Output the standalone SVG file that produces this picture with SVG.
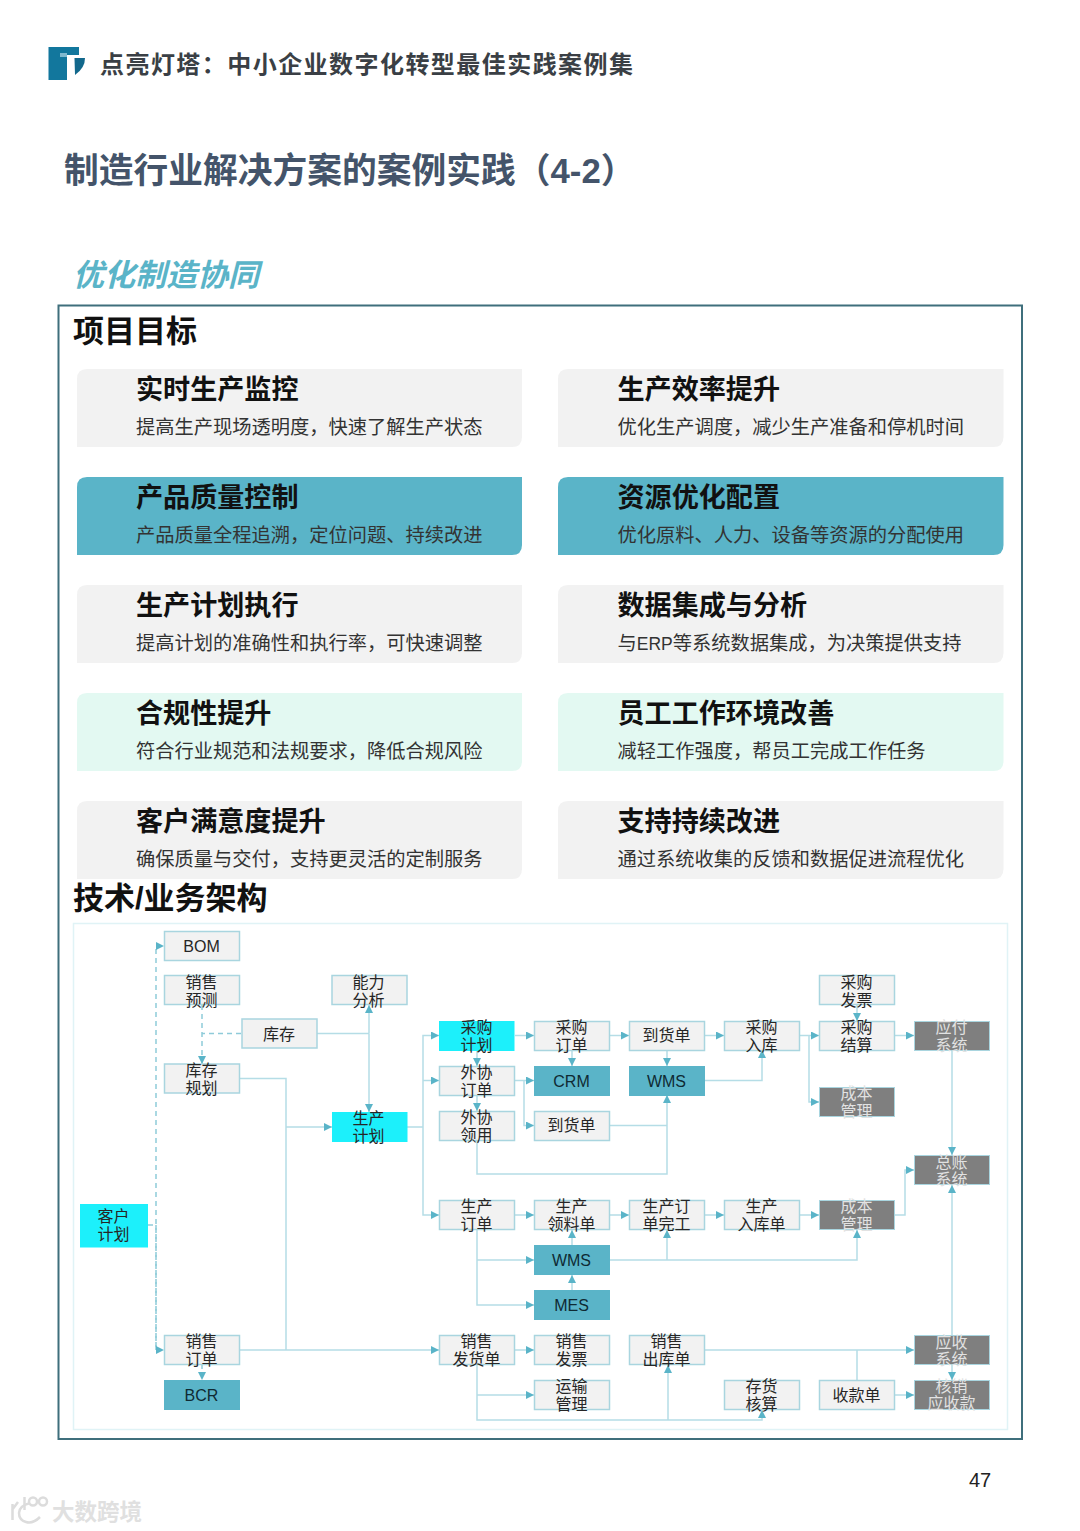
<svg xmlns="http://www.w3.org/2000/svg" width="1080" height="1531" viewBox="0 0 1080 1531">
<style>
text{font-family:"Liberation Sans","Noto Sans CJK SC",sans-serif;fill:#262626}
.n{font-size:16px;text-anchor:middle}
.b{fill:#f2f2f2;stroke:#a9d5df;stroke-width:1.5}
.t{fill:#5ab4c8;stroke:#5ab4c8;stroke-width:1}
.c{fill:#1cf0fb;stroke:#1cf0fb;stroke-width:1}
.g{fill:#7f7f7f;stroke:#a9d5df;stroke-width:1}
.w{fill:#e2e2e2}
.k{fill:#0f2a33}
.ct{font-size:27.1px;font-weight:700;fill:#111}
.cs{font-size:19.25px;fill:#333}
.h{font-size:31px;font-weight:700;fill:#111}
.l{fill:none;stroke:#b5dde6;stroke-width:1.5}
.d{stroke:#8fcbd9;stroke-dasharray:5 4}
.card0{fill:#f2f2f2}.card1{fill:#5ab4c8}.card2{fill:#e3f9f2}
</style>
<defs>
<marker id="a" markerUnits="userSpaceOnUse" markerWidth="9" markerHeight="9" refX="8" refY="4" orient="auto"><path d="M0 0L8 4L0 8Z" fill="#5ab4c8"/></marker>
</defs>
<rect width="1080" height="1531" fill="#fff"/>

<g id="logo">
<path d="M48.500 47H79V55H67V80H48.500Z" fill="#12779d"/>
<path d="M60 53H67V57H60Z" fill="#7fb9cf"/>
<path d="M74.500 58H85Q85 68 75 75Z" fill="#12688c"/>
</g>
<text x="100" y="73" style="font-size:24px;font-weight:700;letter-spacing:1.45px;fill:#3a3f45">点亮灯塔：中小企业数字化转型最佳实践案例集</text>
<text x="64" y="183" style="font-size:34.75px;font-weight:700;fill:#44546a">制造行业解决方案的案例实践（4-2）</text>
<text x="73" y="286" style="font-size:31px;font-weight:700;font-style:italic;fill:#5ab4c8">优化制造协同</text>
<rect x="58.500" y="305.500" width="963.500" height="1133.500" fill="#fff" stroke="#3f6f7c" stroke-width="2"/>
<text class="h" x="73" y="342">项目目标</text>

<g id="card-1"><path class="card0" d="M87 369H522V437Q522 447 512 447H77V379Q77 369 87 369Z"/><text class="ct" x="136" y="399">实时生产监控</text><text class="cs" x="136" y="434">提高生产现场透明度，快速了解生产状态</text></g>
<g id="card-2"><path class="card0" d="M568 369H1003.500V437Q1003.500 447 993.500 447H558V379Q558 369 568 369Z"/><text class="ct" x="617.500" y="399">生产效率提升</text><text class="cs" x="617.500" y="434">优化生产调度，减少生产准备和停机时间</text></g>
<g id="card-3"><path class="card1" d="M87 477H522V545Q522 555 512 555H77V487Q77 477 87 477Z"/><text class="ct" x="136" y="507">产品质量控制</text><text class="cs" x="136" y="542">产品质量全程追溯，定位问题、持续改进</text></g>
<g id="card-4"><path class="card1" d="M568 477H1003.500V545Q1003.500 555 993.500 555H558V487Q558 477 568 477Z"/><text class="ct" x="617.500" y="507">资源优化配置</text><text class="cs" x="617.500" y="542">优化原料、人力、设备等资源的分配使用</text></g>
<g id="card-5"><path class="card0" d="M87 585H522V653Q522 663 512 663H77V595Q77 585 87 585Z"/><text class="ct" x="136" y="615">生产计划执行</text><text class="cs" x="136" y="650">提高计划的准确性和执行率，可快速调整</text></g>
<g id="card-6"><path class="card0" d="M568 585H1003.500V653Q1003.500 663 993.500 663H558V595Q558 585 568 585Z"/><text class="ct" x="617.500" y="615">数据集成与分析</text><text class="cs" x="617.500" y="650">与<tspan style="font-size:17.500px">ERP</tspan>等系统数据集成，为决策提供支持</text></g>
<g id="card-7"><path class="card2" d="M87 693H522V761Q522 771 512 771H77V703Q77 693 87 693Z"/><text class="ct" x="136" y="723">合规性提升</text><text class="cs" x="136" y="758">符合行业规范和法规要求，降低合规风险</text></g>
<g id="card-8"><path class="card2" d="M568 693H1003.500V761Q1003.500 771 993.500 771H558V703Q558 693 568 693Z"/><text class="ct" x="617.500" y="723">员工工作环境改善</text><text class="cs" x="617.500" y="758">减轻工作强度，帮员工完成工作任务</text></g>
<g id="card-9"><path class="card0" d="M87 801H522V869Q522 879 512 879H77V811Q77 801 87 801Z"/><text class="ct" x="136" y="831">客户满意度提升</text><text class="cs" x="136" y="866">确保质量与交付，支持更灵活的定制服务</text></g>
<g id="card-10"><path class="card0" d="M568 801H1003.500V869Q1003.500 879 993.500 879H558V811Q558 801 568 801Z"/><text class="ct" x="617.500" y="831">支持持续改进</text><text class="cs" x="617.500" y="866">通过系统收集的反馈和数据促进流程优化</text></g>
<text class="h" x="73" y="909">技术/业务架构</text>
<rect x="73.500" y="923.500" width="934" height="506" fill="#fff" stroke="#e0f3f6" stroke-width="1.500"/>

<g id="connectors" class="conn">
<path class="l d" d="M148 1225H156"/>
<path class="l d" d="M156 1350V946H164" marker-end="url(#a)"/>
<path class="l d" d="M156 1225V1350H164" marker-end="url(#a)"/>
<path class="l d" d="M202 1005V1064" marker-end="url(#a)"/>
<path class="l d" d="M241 1033.500H202"/>
<path class="l d" d="M202 1364V1380" marker-end="url(#a)"/>
<path class="l" d="M317 1033.500H369"/>
<path class="l" d="M369 1033.500V1005" marker-end="url(#a)"/>
<path class="l" d="M369 1033.500V1112" marker-end="url(#a)"/>
<path class="l" d="M240 1078.500H286V1350"/>
<path class="l" d="M286 1127H332" marker-end="url(#a)"/>
<path class="l" d="M240 1350H439" marker-end="url(#a)"/>
<path class="l" d="M407 1127H423"/>
<path class="l" d="M423 1127V1035.500H439" marker-end="url(#a)"/>
<path class="l" d="M423 1080.500H439" marker-end="url(#a)"/>
<path class="l" d="M423 1127V1215H439" marker-end="url(#a)"/>
<path class="l" d="M477 1050V1066" marker-end="url(#a)"/>
<path class="l" d="M477 1095V1111" marker-end="url(#a)"/>
<path class="l" d="M477 1140V1174H667V1095" marker-end="url(#a)"/>
<path class="l" d="M515 1035.500H534" marker-end="url(#a)"/>
<path class="l" d="M515 1080.500H534" marker-end="url(#a)"/>
<path class="l" d="M524 1080.500V1125.500H534" marker-end="url(#a)"/>
<path class="l" d="M572 1050V1066" marker-end="url(#a)"/>
<path class="l" d="M610 1125.500H667"/>
<path class="l" d="M610 1035.500H629" marker-end="url(#a)"/>
<path class="l" d="M705 1035.500H724" marker-end="url(#a)"/>
<path class="l" d="M667 1050V1066" marker-end="url(#a)"/>
<path class="l" d="M705 1080.500H762V1050" marker-end="url(#a)"/>
<path class="l" d="M800 1035.500H819" marker-end="url(#a)"/>
<path class="l" d="M809 1035.500V1102H819" marker-end="url(#a)"/>
<path class="l" d="M857 1005V1021" marker-end="url(#a)"/>
<path class="l" d="M895 1035.500H914" marker-end="url(#a)"/>
<path class="l" d="M952 1050V1155" marker-end="url(#a)"/>
<path class="l" d="M895 1215H905V1170H914" marker-end="url(#a)"/>
<path class="l" d="M952 1335V1185" marker-end="url(#a)"/>
<path class="l" d="M952 1365V1380" marker-end="url(#a)"/>
<path class="l" d="M515 1215H534" marker-end="url(#a)"/>
<path class="l" d="M610 1215H629" marker-end="url(#a)"/>
<path class="l" d="M705 1215H724" marker-end="url(#a)"/>
<path class="l" d="M800 1215H819" marker-end="url(#a)"/>
<path class="l" d="M477 1230V1305H534" marker-end="url(#a)"/>
<path class="l" d="M477 1260H534" marker-end="url(#a)"/>
<path class="l" d="M572 1245V1230" marker-end="url(#a)"/>
<path class="l" d="M572 1290V1275" marker-end="url(#a)"/>
<path class="l" d="M610 1260H857V1230" marker-end="url(#a)"/>
<path class="l" d="M667 1260V1230" marker-end="url(#a)"/>
<path class="l" d="M515 1350H534" marker-end="url(#a)"/>
<path class="l" d="M477 1365V1420H762V1410" marker-end="url(#a)"/>
<path class="l" d="M477 1395H534" marker-end="url(#a)"/>
<path class="l" d="M668 1420V1365" marker-end="url(#a)"/>
<path class="l" d="M705 1350H914" marker-end="url(#a)"/>
<path class="l" d="M857 1380V1350"/>
<path class="l" d="M895 1395H914" marker-end="url(#a)"/>
</g>

<g id="n-bom"><rect class="b" x="164.500" y="931.500" width="75" height="29"/><text class="n" x="201.500" y="952">BOM</text></g>
<g id="n-xsyc"><rect class="b" x="164.500" y="975.500" width="75" height="29"/><text class="n" x="201.500" y="988">销售</text><text class="n" x="201.500" y="1006">预测</text></g>
<g id="n-nlfx"><rect class="b" x="332" y="975.500" width="75" height="29"/><text class="n" x="368.500" y="988">能力</text><text class="n" x="368.500" y="1006">分析</text></g>
<g id="n-kc"><rect class="b" x="242" y="1019" width="75" height="29"/><text class="n" x="279" y="1040">库存</text></g>
<g id="n-kcgh"><rect class="b" x="164.500" y="1064" width="75" height="29"/><text class="n" x="201.500" y="1076">库存</text><text class="n" x="201.500" y="1094">规划</text></g>
<g id="n-scjh"><rect class="c" x="332.500" y="1112.500" width="74.500" height="29"/><text class="n" x="368.500" y="1124">生产</text><text class="n" x="368.500" y="1142">计划</text></g>
<g id="n-khjh"><rect class="c" x="80.500" y="1204.500" width="67" height="42.500"/><text class="n" x="113.500" y="1222">客户</text><text class="n" x="113.500" y="1240">计划</text></g>
<g id="n-xsdd"><rect class="b" x="164.500" y="1335.500" width="75" height="29"/><text class="n" x="201.500" y="1347">销售</text><text class="n" x="201.500" y="1365">订单</text></g>
<g id="n-bcr"><rect class="t" x="164.500" y="1380.500" width="75" height="29"/><text class="n k" x="201.500" y="1401">BCR</text></g>

<g id="n-cgjh"><rect class="c" x="439.500" y="1021.500" width="74.500" height="29"/><text class="n" x="476.500" y="1033">采购</text><text class="n" x="476.500" y="1051">计划</text></g>
<g id="n-wxdd"><rect class="b" x="439.500" y="1066.500" width="75" height="29"/><text class="n" x="476.500" y="1078">外协</text><text class="n" x="476.500" y="1096">订单</text></g>
<g id="n-wxly"><rect class="b" x="439.500" y="1111.500" width="75" height="29"/><text class="n" x="476.500" y="1123">外协</text><text class="n" x="476.500" y="1141">领用</text></g>
<g id="n-scdd"><rect class="b" x="439.500" y="1200.500" width="75" height="29"/><text class="n" x="476.500" y="1212">生产</text><text class="n" x="476.500" y="1230">订单</text></g>
<g id="n-xsfhd"><rect class="b" x="439.500" y="1335.500" width="75" height="29"/><text class="n" x="476.500" y="1347">销售</text><text class="n" x="476.500" y="1365">发货单</text></g>

<g id="n-cgdd"><rect class="b" x="534.500" y="1021.500" width="75" height="29"/><text class="n" x="571.500" y="1033">采购</text><text class="n" x="571.500" y="1051">订单</text></g>
<g id="n-crm"><rect class="t" x="534.500" y="1066.500" width="75" height="29"/><text class="n k" x="571.500" y="1087">CRM</text></g>
<g id="n-dhd2"><rect class="b" x="534.500" y="1111.500" width="75" height="29"/><text class="n" x="571.500" y="1131">到货单</text></g>
<g id="n-scll"><rect class="b" x="534.500" y="1200.500" width="75" height="29"/><text class="n" x="571.500" y="1212">生产</text><text class="n" x="571.500" y="1230">领料单</text></g>
<g id="n-wms2"><rect class="t" x="534.500" y="1245.500" width="75" height="29"/><text class="n k" x="571.500" y="1266">WMS</text></g>
<g id="n-mes"><rect class="t" x="534.500" y="1290.500" width="75" height="29"/><text class="n k" x="571.500" y="1311">MES</text></g>
<g id="n-xsfp"><rect class="b" x="534.500" y="1335.500" width="75" height="29"/><text class="n" x="571.500" y="1347">销售</text><text class="n" x="571.500" y="1365">发票</text></g>
<g id="n-ysgl"><rect class="b" x="534.500" y="1380.500" width="75" height="29"/><text class="n" x="571.500" y="1392">运输</text><text class="n" x="571.500" y="1410">管理</text></g>

<g id="n-dhd"><rect class="b" x="629.500" y="1021.500" width="75" height="29"/><text class="n" x="666.500" y="1041">到货单</text></g>
<g id="n-wms"><rect class="t" x="629.500" y="1066.500" width="75" height="29"/><text class="n k" x="666.500" y="1087">WMS</text></g>
<g id="n-scdwg"><rect class="b" x="629.500" y="1200.500" width="75" height="29"/><text class="n" x="666.500" y="1212">生产订</text><text class="n" x="666.500" y="1230">单完工</text></g>
<g id="n-xsck"><rect class="b" x="629.500" y="1335.500" width="75" height="29"/><text class="n" x="666.500" y="1347">销售</text><text class="n" x="666.500" y="1365">出库单</text></g>

<g id="n-cgrk"><rect class="b" x="724.500" y="1021.500" width="75" height="29"/><text class="n" x="761.500" y="1033">采购</text><text class="n" x="761.500" y="1051">入库</text></g>
<g id="n-scrk"><rect class="b" x="724.500" y="1200.500" width="75" height="29"/><text class="n" x="761.500" y="1212">生产</text><text class="n" x="761.500" y="1230">入库单</text></g>
<g id="n-chhs"><rect class="b" x="724.500" y="1380.500" width="75" height="29"/><text class="n" x="761.500" y="1392">存货</text><text class="n" x="761.500" y="1410">核算</text></g>

<g id="n-cgfp"><rect class="b" x="819.500" y="975.500" width="75" height="29"/><text class="n" x="856.500" y="988">采购</text><text class="n" x="856.500" y="1006">发票</text></g>
<g id="n-cgjs"><rect class="b" x="819.500" y="1021.500" width="75" height="29"/><text class="n" x="856.500" y="1033">采购</text><text class="n" x="856.500" y="1051">结算</text></g>
<g id="n-cbgl1"><rect class="g" x="819.500" y="1087.500" width="75" height="29"/><text class="n w" x="856.500" y="1099">成本</text><text class="n w" x="856.500" y="1117">管理</text></g>
<g id="n-cbgl2"><rect class="g" x="819.500" y="1200.500" width="75" height="29"/><text class="n w" x="856.500" y="1212">成本</text><text class="n w" x="856.500" y="1230">管理</text></g>
<g id="n-skd"><rect class="b" x="819.500" y="1380.500" width="75" height="29"/><text class="n" x="856.500" y="1401">收款单</text></g>

<g id="n-yfxt"><rect class="g" x="914.500" y="1021.500" width="75" height="29"/><text class="n w" x="951.500" y="1033">应付</text><text class="n w" x="951.500" y="1051">系统</text></g>
<g id="n-zzxt"><rect class="g" x="914.500" y="1155.500" width="75" height="29"/><text class="n w" x="951.500" y="1168">总账</text><text class="n w" x="951.500" y="1185">系统</text></g>
<g id="n-ysxt"><rect class="g" x="914.500" y="1335.500" width="75" height="29"/><text class="n w" x="951.500" y="1348">应收</text><text class="n w" x="951.500" y="1365">系统</text></g>
<g id="n-hx"><rect class="g" x="914.500" y="1380.500" width="75" height="29"/><text class="n w" x="951.500" y="1392">核销</text><text class="n w" x="951.500" y="1409">应收款</text></g>

<text x="969" y="1487" style="font-size:20px;fill:#222">47</text>
<g id="watermark" fill="none" stroke="#dcdcdc" stroke-width="2.500">
<path d="M12.500 1504V1520M12 1510L18 1502"/>
<path d="M30 1503Q19 1506 19 1513T26 1522T40 1517"/>
<path d="M24.500 1497V1510"/>
<circle cx="33" cy="1501.500" r="4"/><circle cx="43" cy="1501.500" r="4"/>
</g>
<text x="52" y="1520" style="font-size:22.500px;font-weight:700;fill:#e0e0e0">大数跨境</text>
</svg>
